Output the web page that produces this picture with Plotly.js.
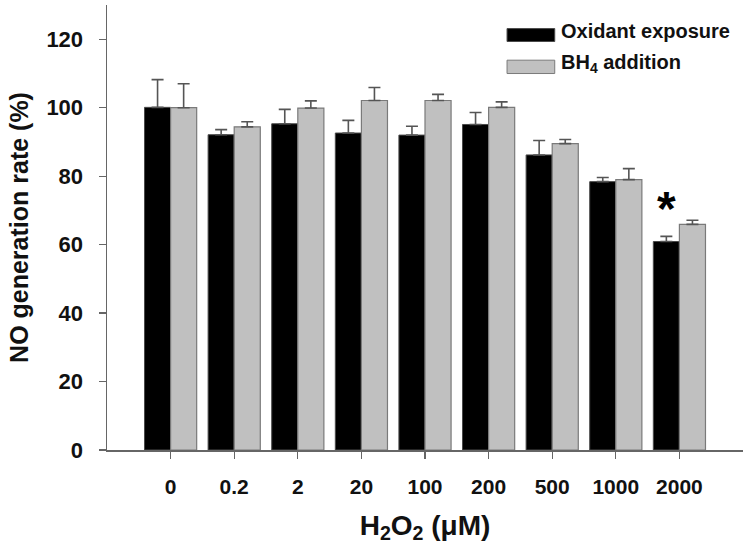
<!DOCTYPE html>
<html>
<head>
<meta charset="utf-8">
<script src="https://cdn.plot.ly/plotly-3.0.1.min.js"></script>
<style>html,body{margin:0;padding:0;background:#fff;}#chart{width:750px;height:556px;}</style>
</head>
<body>
<div id="chart"></div>
<script>
const categories = ["0", "0.2", "2", "20", "100", "200", "500", "1000", "2000"];
const oxidantValues = [100.1, 92.1, 95.3, 92.6, 92.0, 95.1, 86.2, 78.4, 60.9];
const oxidantErrors = [8.1, 1.5, 4.2, 3.7, 2.6, 3.5, 4.2, 1.2, 1.5];
const bh4Values = [100.0, 94.4, 99.9, 102.1, 102.1, 100.1, 89.5, 79.0, 65.9];
const bh4Errors = [7.0, 1.5, 2.1, 3.8, 1.8, 1.6, 1.2, 3.2, 1.2];
const seriesNames = ["Oxidant exposure", "BH<sub>4</sub> addition"];
const yTicks = [0, 20, 40, 60, 80, 100, 120];
const starCategory = "2000";
const starValue = 70.5;

const FONT = "Liberation Sans, Arial, Helvetica, sans-serif";
const xIdx = categories.map((c, i) => i);

const traces = [
  {
    type: "bar", name: seriesNames[0], x: xIdx, y: oxidantValues,
    marker: {color: "#000000", line: {color: "#4a4a4a", width: 1}},
    error_y: {type: "data", array: oxidantErrors, symmetric: false, arrayminus: oxidantErrors.map(() => 0),
              color: "#555555", thickness: 1.6, width: 6},
    showlegend: false, hoverinfo: "skip"
  },
  {
    type: "bar", name: seriesNames[1], x: xIdx, y: bh4Values,
    marker: {color: "#c0c0c0", line: {color: "#7a7a7a", width: 1.2}},
    error_y: {type: "data", array: bh4Errors, symmetric: false, arrayminus: bh4Errors.map(() => 0),
              color: "#555555", thickness: 1.6, width: 6},
    showlegend: false, hoverinfo: "skip"
  }
];

// custom legend (swatch shapes + text) in paper coordinates
const legendItems = [
  {fill: "#000000", line: "#4a4a4a", y0: 0.918, y1: 0.947, ty: 0.941},
  {fill: "#c0c0c0", line: "#7a7a7a", y0: 0.846, y1: 0.876, ty: 0.869}
];
const shapes = [];
const annotations = [];
legendItems.forEach((it, i) => {
  shapes.push({type: "rect", xref: "paper", yref: "paper", x0: 0.629, x1: 0.704, y0: it.y0, y1: it.y1,
               fillcolor: it.fill, line: {color: it.line, width: 1}});
  annotations.push({xref: "paper", yref: "paper", x: 0.711, y: it.ty, xanchor: "left", yanchor: "middle",
                    text: seriesNames[i], showarrow: false,
                    font: {family: FONT, size: 20, color: "#111", weight: 700}});
});
annotations.push({x: categories.indexOf(starCategory) - 0.2, y: starValue, xref: "x", yref: "y",
                  text: "*", showarrow: false, yanchor: "middle",
                  font: {family: FONT, size: 48, color: "#000", weight: 700}});

const layout = {
  width: 750, height: 556,
  margin: {l: 107, r: 7, t: 5, b: 106},
  paper_bgcolor: "#ffffff", plot_bgcolor: "#ffffff",
  barmode: "group", bargap: 0.18, bargroupgap: 0,
  font: {family: FONT, color: "#111"},
  xaxis: {
    range: [-1, 9], tickmode: "array", tickvals: xIdx, ticktext: categories,
    showgrid: false, zeroline: false, showline: true, linecolor: "#666", linewidth: 1.5,
    ticks: "outside", ticklen: 7, tickwidth: 1.3, tickcolor: "#666",
    ticklabelstandoff: 10,
    tickfont: {family: FONT, size: 21, color: "#111", weight: 700},
    title: {text: "H<sub>2</sub>O<sub>2</sub> (μM)", standoff: 18,
            font: {family: FONT, size: 28, color: "#111", weight: 700}}
  },
  yaxis: {
    range: [0, 130], tickmode: "array", tickvals: yTicks, ticktext: yTicks.map(String),
    showgrid: false, zeroline: false, showline: true, linecolor: "#666", linewidth: 1.5,
    ticks: "outside", ticklen: 7, tickwidth: 1.3, tickcolor: "#666",
    ticklabelstandoff: 11,
    tickfont: {family: FONT, size: 22, color: "#111", weight: 700},
    title: {text: "NO generation rate (%)", standoff: 10,
            font: {family: FONT, size: 25, color: "#111", weight: 700}}
  },
  shapes: shapes,
  annotations: annotations
};

Plotly.newPlot("chart", traces, layout, {staticPlot: true, displayModeBar: false});
</script>
</body>
</html>
